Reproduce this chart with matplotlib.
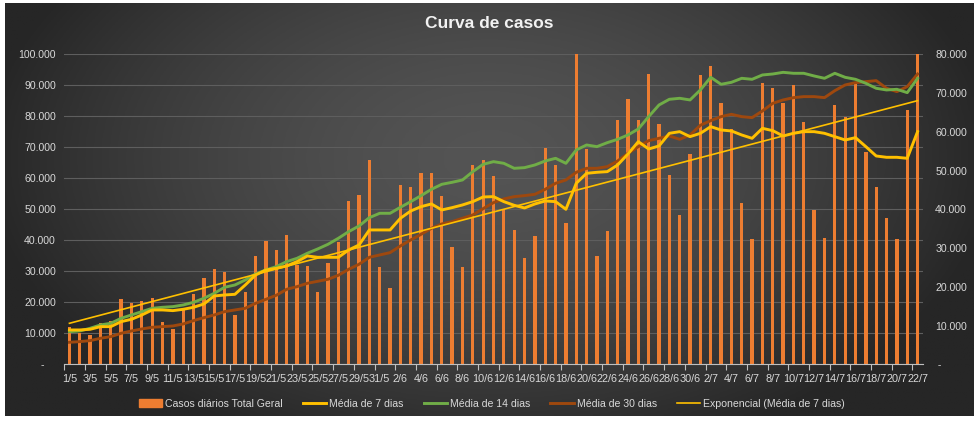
import matplotlib.pyplot as plt
import numpy as np
from matplotlib import font_manager
from matplotlib.ticker import FuncFormatter, MultipleLocator
from matplotlib.patches import Patch
from matplotlib.lines import Line2D

# dados (milhares)
dias = [f"{d}/5" for d in range(1, 32)] + [f"{d}/6" for d in range(1, 31)] + [f"{d}/7" for d in range(1, 23)]

casos = [11.9, 10.2, 9.5, 13.2, 14.0, 21.1, 19.8, 20.4, 21.4, 13.7,
         11.5, 17.5, 22.7, 27.8, 30.8, 29.8, 15.9, 23.4, 34.9, 39.8,
         36.9, 41.7, 32.0, 31.7, 23.3, 32.8, 39.6, 52.7, 54.6, 65.9,
         31.4, 24.6, 57.8, 57.2, 61.7, 61.7, 54.3, 37.8, 31.4, 64.3,
         65.9, 60.8, 50.0, 43.3, 34.2, 41.4, 69.9, 64.3, 45.7, 100.0,
         69.5, 34.9, 43.0, 78.8, 85.6, 78.8, 93.7, 77.5, 61.1, 48.2,
         67.8, 93.3, 96.2, 84.4, 75.8, 51.9, 40.4, 90.6, 89.0, 84.4,
         90.1, 78.3, 49.8, 40.6, 83.7, 79.9, 90.6, 68.6, 57.3, 47.3,
         40.4, 82.0, 100.0]

media_7 = [8.86, 8.86, 9.03, 9.72, 9.72, 11.01, 11.61, 12.73, 14.02, 14.02,
           13.85, 14.19, 14.71, 15.57, 17.63, 17.89, 18.06, 20.47, 23.05, 24.34,
           24.77, 25.38, 26.49, 27.96, 27.61, 27.61, 27.61, 29.51, 30.8, 34.67,
           34.67, 34.67, 37.68, 39.57, 40.69, 41.38, 39.83, 40.43, 41.12, 41.98,
           43.18, 43.27, 41.98, 41.03, 40.34, 41.38, 42.15, 41.98, 40.0, 46.71,
           49.29, 49.55, 49.72, 51.44, 54.28, 57.46, 55.57, 56.34, 59.61, 60.04,
           58.75, 59.61, 61.33, 60.47, 60.22, 59.18, 58.32, 60.9, 60.3, 58.92,
           59.61, 60.04, 60.04, 59.61, 58.75, 57.89, 58.49, 56.17, 53.76, 53.42,
           53.42, 53.16, 60.04]

media_14 = [8.43, 8.6, 9.29, 10.15, 10.58, 11.87, 12.73, 13.59, 14.45, 14.71,
            14.88, 15.31, 16.0, 17.03, 18.32, 19.87, 20.47, 21.76, 23.31, 24.34,
            25.2, 26.49, 27.35, 28.65, 29.76, 30.97, 32.52, 34.24, 35.7, 37.85,
            38.97, 38.97, 40.52, 41.98, 43.53, 45.16, 46.45, 46.97, 47.57, 49.72,
            51.61, 52.3, 51.87, 50.58, 50.75, 51.44, 52.47, 53.16, 51.87, 55.31,
            56.6, 56.17, 57.2, 58.06, 59.18, 60.73, 63.91, 66.92, 68.39, 68.65,
            68.22, 70.8, 74.06, 72.26, 72.77, 73.81, 73.55, 74.67, 74.92, 75.35,
            75.1, 75.1, 74.41, 73.81, 75.1, 74.06, 73.55, 72.52, 71.23, 70.8,
            70.97, 70.11, 73.81]

media_30 = [5.68, 5.85, 6.11, 6.71, 7.14, 8.0, 8.6, 9.12, 9.55, 9.72,
            9.89, 10.41, 11.27, 12.04, 12.73, 13.59, 14.02, 14.45, 15.74, 16.77,
            17.81, 19.35, 20.04, 20.9, 21.42, 21.94, 22.97, 24.52, 25.81, 27.61,
            28.22, 28.82, 30.54, 32.09, 33.55, 35.1, 36.22, 36.82, 37.68, 38.54,
            40.17, 41.72, 42.67, 43.27, 43.53, 43.87, 45.16, 46.71, 47.57, 49.55,
            50.58, 50.58, 51.01, 52.47, 54.45, 56.17, 57.72, 58.32, 58.92, 58.06,
            59.18, 61.68, 62.88, 63.91, 64.52, 63.91, 63.66, 65.38, 67.35, 68.22,
            68.82, 69.08, 69.08, 68.82, 70.62, 72.09, 72.69, 72.95, 73.2, 71.23,
            70.37, 71.66, 74.92]

tendencia = [10.58, 68.04]

fonte = 'Liberation Sans'
if fonte not in {f.name for f in font_manager.fontManager.ttflist}:
    fonte = 'DejaVu Sans'
plt.rcParams['font.family'] = fonte

cor_txt = '#d9d9d9'
x = np.arange(len(dias))

fig = plt.figure(figsize=(9.78, 4.23), dpi=100, facecolor='white')

# fundo em degradê
bg = fig.add_axes([0.005, 0.017, 0.99, 0.975])
gx, gy = np.meshgrid(np.linspace(-1, 1, 300), np.linspace(-1, 1, 150))
r = np.sqrt((gx / 1.05) ** 2 + ((gy - 0.25) / 1.5) ** 2)
r = np.clip(r, 0, 1) ** 1.6
c0 = np.array([0x54, 0x54, 0x54]) / 255
c1 = np.array([0x26, 0x26, 0x26]) / 255
img = c0[None, None, :] * (1 - r[..., None]) + c1[None, None, :] * r[..., None]
bg.imshow(img, aspect='auto', origin='lower', extent=[0, 1, 0, 1])
bg.axis('off')

ax = fig.add_axes([0.0657, 0.1388, 0.8778, 0.7328])
ax.set_facecolor('none')
ax.bar(x, np.array(casos) * 1000, width=0.32, color='#ED7D31', zorder=2)
ax.set_xlim(-0.5, len(dias) - 0.5)
ax.set_ylim(0, 100000)
ax.yaxis.set_major_locator(MultipleLocator(10000))
ax.yaxis.set_major_formatter(FuncFormatter(
    lambda v, p: '-    ' if v == 0 else f"{v:,.0f}".replace(',', '.')))
ax.grid(axis='y', color='#5e5e5e', lw=0.8)
ax.set_axisbelow(True)
for s in ['top', 'left', 'right']:
    ax.spines[s].set_visible(False)
ax.spines['bottom'].set_color('#bfbfbf')
ax.spines['bottom'].set_linewidth(0.8)
ax.set_xticks(x[::2])
ax.set_xticklabels(dias[::2])
ax.set_xticks(np.arange(-0.5, len(dias), 2), minor=True)
ax.tick_params(axis='x', which='major', length=0, pad=7, labelsize=7.8, colors=cor_txt)
ax.tick_params(axis='x', which='minor', length=4, width=0.8, color='#bfbfbf')
ax.tick_params(axis='y', length=0, pad=6, labelsize=7.6, colors=cor_txt)

ax2 = ax.twinx()
ax2.set_ylim(0, 80000)
ax2.yaxis.set_major_locator(MultipleLocator(10000))
ax2.yaxis.set_major_formatter(FuncFormatter(
    lambda v, p: ' -' if v == 0 else f"{v:,.0f}".replace(',', '.')))
for s in ax2.spines.values():
    s.set_visible(False)
ax2.tick_params(axis='y', length=0, pad=9, labelsize=7.6, colors=cor_txt)

ax2.plot(x, np.array(media_30) * 1000, color='#9E480E', lw=2.1)
ax2.plot(x, np.array(media_14) * 1000, color='#70AD47', lw=2.1)
ax2.plot(x, np.array(media_7) * 1000, color='#FFC000', lw=2.1)
ax2.plot([x[0], x[-1]], np.array(tendencia) * 1000, color='#FFC000', lw=1.2)

fig.text(0.5, 0.945, 'Curva de casos', ha='center', va='center',
         fontsize=12.5, fontweight='bold', color='#f2f2f2')

handles = [Patch(color='#ED7D31'),
           Line2D([], [], color='#FFC000', lw=2.1),
           Line2D([], [], color='#70AD47', lw=2.1),
           Line2D([], [], color='#9E480E', lw=2.1),
           Line2D([], [], color='#FFC000', lw=1.2)]
labels = ['Casos diários Total Geral', 'Média de 7 dias', 'Média de 14 dias',
          'Média de 30 dias', 'Exponencial (Média de 7 dias)']
fig.legend(handles, labels, loc='center', bbox_to_anchor=(0.503, 0.045), ncol=5,
           frameon=False, fontsize=7.6, labelcolor=cor_txt, handlelength=2.2,
           handleheight=0.8, handletextpad=0.3, columnspacing=1.9)

fig.savefig('out.png', dpi=100, facecolor=fig.get_facecolor())
